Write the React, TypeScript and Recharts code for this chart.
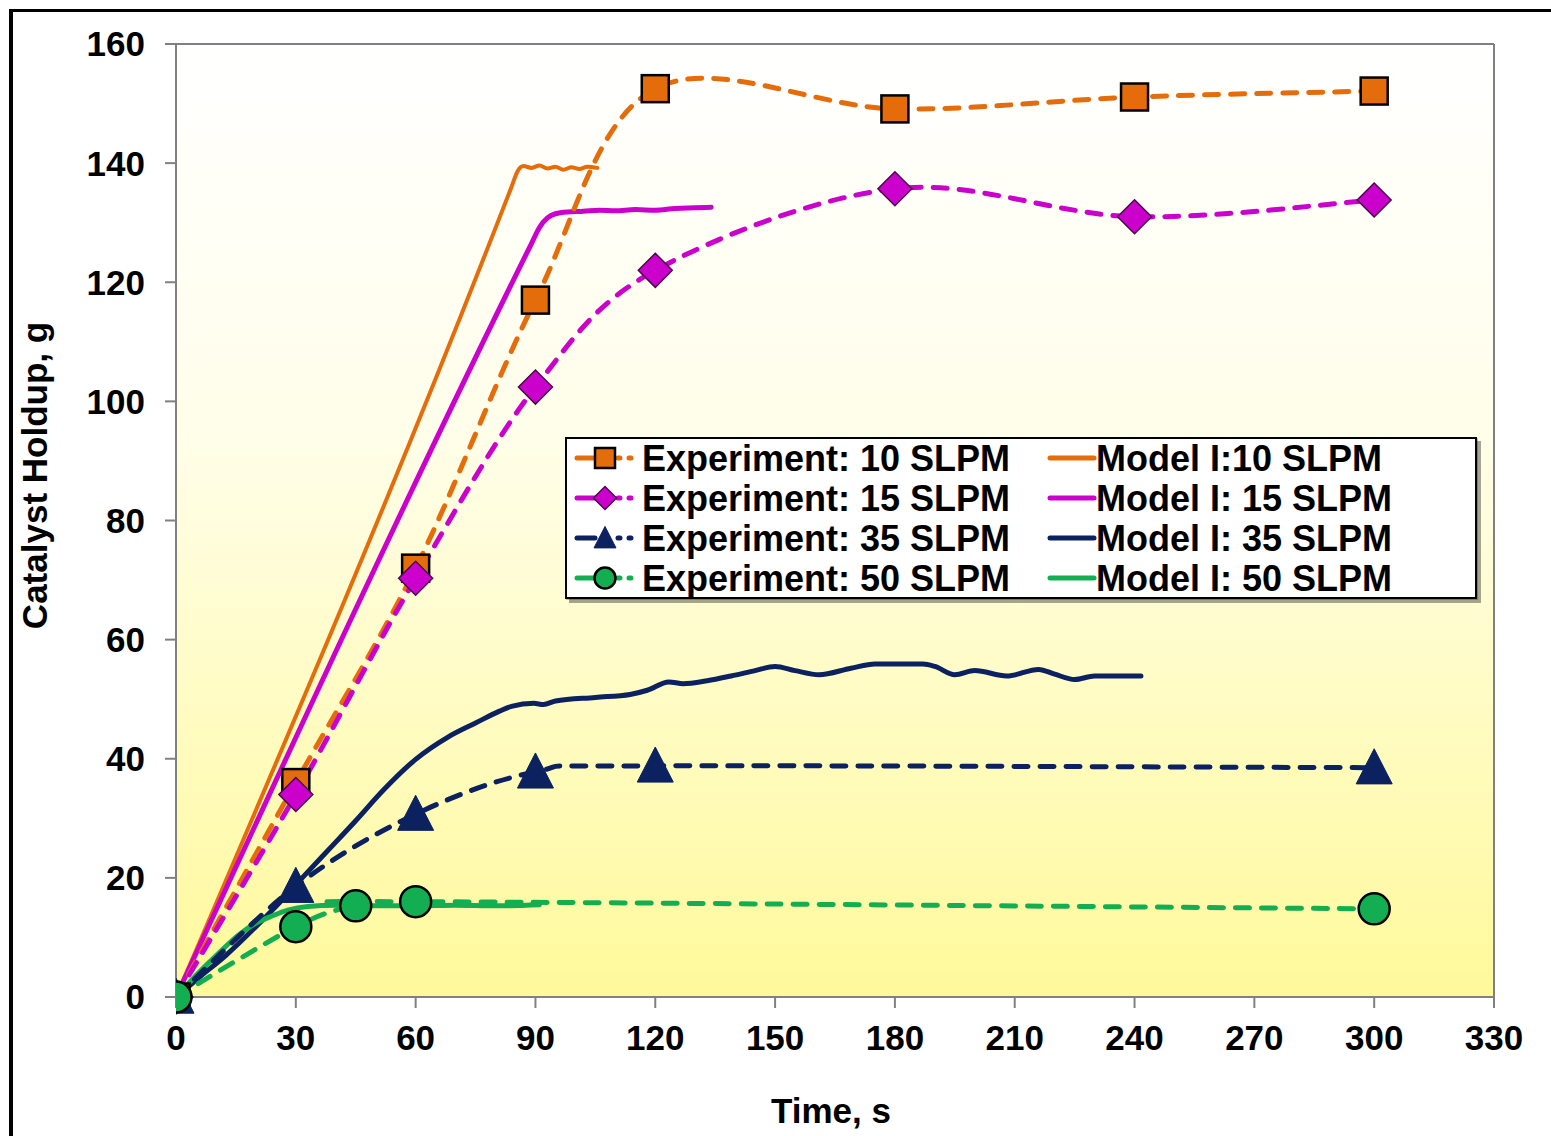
import React from 'react';
import { LineChart, Line, XAxis, YAxis, CartesianGrid, Legend } from 'recharts';

const FONT = '"Liberation Sans", Arial, Helvetica, sans-serif';

const ORANGE = '#E46C0A';
const MAGENTA = '#CC00CC';
const NAVY = '#0B2160';
const GREEN = '#14AE52';

// measured holdup, time in s, holdup in g
const expTime10 = [0, 30, 60, 90, 120, 180, 240, 300];
const expHold10 = [0, 36, 72, 117, 152.5, 149.1, 151.1, 152.1];
const expTime15 = [0, 30, 60, 90, 120, 180, 240, 300];
const expHold15 = [0, 34, 70.3, 102.4, 122, 135.7, 131, 133.8];
const expTime35 = [0, 30, 60, 90, 120, 300];
const expHold35 = [0, 18.6, 30.7, 37.8, 38.8, 38.5];
const expTime50 = [0, 30, 45, 60, 300];
const expHold50 = [0, 11.8, 15.3, 16, 14.8];

// Model I traces
const modelTime10 = [0, 84, 85.5, 87, 89, 91, 93, 95, 97, 99, 101, 103, 105.5];
const modelHold10 = [0, 136, 138.6, 139.5, 139.2, 139.6, 139.1, 139.4, 138.9, 139.3, 139.0, 139.4, 139.2];
const modelTime15 = [0, 89, 91, 93, 95, 98, 102, 106, 110, 115, 120, 125, 130, 134];
const modelHold15 = [0, 126.5, 129.2, 130.8, 131.5, 131.8, 131.9, 132.1, 132.0, 132.2, 132.1, 132.4, 132.5, 132.6];
const modelTime35 = [0, 6, 12.5, 20, 25, 33, 40, 45, 52, 60, 68, 75, 81, 84, 89.6, 92, 95, 105, 113.7, 118, 123.4, 127, 133, 139, 145, 150, 155, 161, 169, 175, 187, 190, 195, 200, 208, 216, 220, 225, 230, 241.6];
const modelHold35 = [0, 3.4, 7, 11.8, 15.2, 21, 26, 29.6, 34.8, 39.9, 43.6, 46, 48, 48.8, 49.3, 49.1, 49.7, 50.3, 50.8, 51.5, 52.9, 52.6, 53.1, 53.9, 54.8, 55.5, 54.8, 54.1, 55.2, 55.9, 55.9, 55.5, 54.1, 54.8, 53.9, 55.0, 54.2, 53.3, 53.9, 53.9];
const modelTime50 = [0, 5, 10, 16, 20, 24, 28, 33, 40, 50, 60, 70, 80, 91];
const modelHold50 = [0, 3.6, 6.9, 10.6, 12.4, 13.6, 14.6, 15.2, 15.4, 15.3, 15.3, 15.4, 15.3, 15.5];

const xTicks = [0, 30, 60, 90, 120, 150, 180, 210, 240, 270, 300, 330];
const yTicks = [0, 20, 40, 60, 80, 100, 120, 140, 160];

type Shape = 'square' | 'diamond' | 'triangle' | 'circle';

const toRows = (t: number[], v: number[]) => t.map((x, i) => ({ t: x, v: v[i] }));

const experiments = [
  { id: 'e10', name: 'Experiment: 10 SLPM', rows: toRows(expTime10, expHold10), color: ORANGE, shape: 'square' as Shape },
  { id: 'e15', name: 'Experiment: 15 SLPM', rows: toRows(expTime15, expHold15), color: MAGENTA, shape: 'diamond' as Shape },
  { id: 'e35', name: 'Experiment: 35 SLPM', rows: toRows(expTime35, expHold35), color: NAVY, shape: 'triangle' as Shape },
  { id: 'e50', name: 'Experiment: 50 SLPM', rows: toRows(expTime50, expHold50), color: GREEN, shape: 'circle' as Shape },
];

const models = [
  { id: 'm10', name: 'Model I:10 SLPM', rows: toRows(modelTime10, modelHold10), color: ORANGE, width: 4 },
  { id: 'm15', name: 'Model I: 15 SLPM', rows: toRows(modelTime15, modelHold15), color: MAGENTA, width: 5 },
  { id: 'm35', name: 'Model I: 35 SLPM', rows: toRows(modelTime35, modelHold35), color: NAVY, width: 5 },
  { id: 'm50', name: 'Model I: 50 SLPM', rows: toRows(modelTime50, modelHold50), color: GREEN, width: 5 },
];

// spreadsheet-style smoothing: cubic bezier through every point (catmull-rom, tension 1/6)
const excelSmooth = (context: any) => {
  let pts: [number, number][] = [];
  return {
    areaStart() {},
    areaEnd() {},
    lineStart() {
      pts = [];
    },
    lineEnd() {
      const n = pts.length;
      if (!n) return;
      context.moveTo(pts[0][0], pts[0][1]);
      for (let i = 0; i < n - 1; i++) {
        const p0 = pts[Math.max(i - 1, 0)];
        const p1 = pts[i];
        const p2 = pts[i + 1];
        const p3 = pts[Math.min(i + 2, n - 1)];
        context.bezierCurveTo(
          p1[0] + (p2[0] - p0[0]) / 6, p1[1] + (p2[1] - p0[1]) / 6,
          p2[0] - (p3[0] - p1[0]) / 6, p2[1] - (p3[1] - p1[1]) / 6,
          p2[0], p2[1],
        );
      }
    },
    point(x: number, y: number) {
      pts.push([x, y]);
    },
  };
};

const drawMarker = (shape: Shape, cx: number, cy: number, r: number, fill: string, key?: React.Key) => {
  switch (shape) {
    case 'square':
      return <rect key={key} x={cx - r} y={cy - r} width={2 * r} height={2 * r} fill={fill} stroke="#000" strokeWidth={2.5} />;
    case 'diamond':
      return (
        <polygon key={key} points={`${cx},${cy - r} ${cx + r},${cy} ${cx},${cy + r} ${cx - r},${cy}`}
          fill={fill} stroke="#4a0a4a" strokeWidth={1.5} />
      );
    case 'triangle':
      return (
        <polygon key={key} points={`${cx},${cy - r * 1.05} ${cx + r},${cy + r * 0.9} ${cx - r},${cy + r * 0.9}`}
          fill={fill} stroke={fill} strokeWidth={1} />
      );
    default:
      return <circle key={key} cx={cx} cy={cy} r={r} fill={fill} stroke="#000" strokeWidth={2.5} />;
  }
};

const markerSize: Record<Shape, number> = { square: 13.5, diamond: 17, triangle: 18, circle: 15.5 };
const legendSize: Record<Shape, number> = { square: 10, diamond: 11.5, triangle: 11, circle: 10.5 };

// legend drawn as one svg; the box sits 7px in and 11px down so nothing touches the svg edge
const LegendBox = () => (
  <svg width={930} height={190} style={{ display: 'block', overflow: 'visible' }}>
    <rect x={10} y={14} width={912} height={162} fill="#000" opacity={0.35} />
    <rect x={7} y={11} width={912} height={162} fill="#000" opacity={0.25} />
    <rect x={7} y={11} width={910} height={160} fill="#fff" stroke="#000" strokeWidth={2} />
    {experiments.map((s, i) => {
      const cy = 31 + i * 40;
      return (
        <g key={s.id}>
          <line x1={18} x2={36} y1={cy} y2={cy} stroke={s.color} strokeWidth={5} strokeLinecap="round" />
          <line x1={59} x2={75} y1={cy} y2={cy} stroke={s.color} strokeWidth={5} strokeLinecap="round" strokeDasharray="2 9" />
          {drawMarker(s.shape, 46, cy, legendSize[s.shape], s.color)}
          <text x={83} y={cy + 13} fontFamily={FONT} fontWeight="bold" fontSize={36} fill="#000">{s.name}</text>
        </g>
      );
    })}
    {models.map((s, i) => {
      const cy = 31 + i * 40;
      return (
        <g key={s.id}>
          <line x1={491} x2={535} y1={cy} y2={cy} stroke={s.color} strokeWidth={5} strokeLinecap="round" />
          <text x={537} y={cy + 13} fontFamily={FONT} fontWeight="bold" fontSize={36} fill="#000">{s.name}</text>
        </g>
      );
    })}
  </svg>
);

const tickStyle = { fontFamily: FONT, fontWeight: 'bold', fontSize: 35, fill: '#000' };

const YTitle = (props: any) => {
  const { viewBox } = props;
  const x = viewBox.x + 47;
  const y = viewBox.y + viewBox.height / 2 - 45;
  return (
    <text x={x} y={y} transform={`rotate(-90, ${x}, ${y})`} textAnchor="middle"
      fontFamily={FONT} fontWeight="bold" fontSize={35} fill="#000">Catalyst Holdup, g</text>
  );
};

const XTitle = (props: any) => {
  const { viewBox } = props;
  const x = viewBox.x + viewBox.width / 2 - 4;
  return (
    <text x={x} y={1123} textAnchor="middle" fontFamily={FONT} fontWeight="bold" fontSize={35} fill="#000">Time, s</text>
  );
};

export default function App() {
  return (
    <div style={{ position: 'fixed', left: 0, top: 0, width: 1551, height: 1136, overflow: 'hidden', background: '#fff' }}>
      <div style={{
        position: 'absolute', left: 9, top: 9, width: 1700, height: 1300,
        borderLeft: '4px solid #000', borderTop: '3px solid #000',
      }} />
      <div style={{ position: 'absolute', left: 0, top: 0 }}>
        <LineChart width={1551} height={1136} margin={{ top: 44, right: 57, bottom: 0, left: 0 }}>
          <defs>
            <linearGradient id="plotBg" x1="0" y1="0" x2="0" y2="1">
              <stop offset="0" stopColor="#FFFFFF" />
              <stop offset="0.4" stopColor="#FFFEEA" />
              <stop offset="1" stopColor="#FFF99B" />
            </linearGradient>
          </defs>
          <CartesianGrid
            fill="url(#plotBg)"
            fillOpacity={1}
            stroke="#808080"
            strokeWidth={2}
            horizontalCoordinatesGenerator={({ offset }: any) => [offset.top, offset.top + offset.height]}
            verticalCoordinatesGenerator={({ offset }: any) => [offset.left, offset.left + offset.width]}
          />
          <XAxis
            type="number"
            dataKey="t"
            domain={[0, 330]}
            ticks={xTicks}
            interval={0}
            height={139}
            tickSize={11}
            tickMargin={17}
            tick={tickStyle}
            stroke="#808080"
            strokeWidth={2}
            allowDataOverflow
            label={<XTitle />}
          />
          <YAxis
            type="number"
            domain={[0, 160]}
            ticks={yTicks}
            interval={0}
            width={176}
            tickSize={11}
            tickMargin={20}
            tick={tickStyle}
            stroke="#808080"
            strokeWidth={2}
            label={<YTitle />}
          />
          <Legend
            layout="horizontal"
            verticalAlign="middle"
            content={() => <LegendBox />}
            wrapperStyle={{ position: 'absolute', left: 559, top: 427, width: 930, height: 190 }}
          />
          {models.map((s) => (
            <Line
              key={s.id}
              data={s.rows}
              dataKey="v"
              name={s.name}
              type="monotone"
              stroke={s.color}
              strokeWidth={s.width}
              strokeLinecap="round"
              strokeLinejoin="round"
              dot={false}
              activeDot={false}
              isAnimationActive={false}
              legendType="none"
            />
          ))}
          {experiments.map((s) => (
            <Line
              key={s.id}
              data={s.rows}
              dataKey="v"
              name={s.name}
              type={excelSmooth as any}
              stroke={s.color}
              strokeWidth={5}
              strokeDasharray="14 12"
              strokeLinecap="round"
              dot={(p: any) => drawMarker(s.shape, p.cx, p.cy, markerSize[s.shape], s.color, `${s.id}-${p.index}`)}
              activeDot={false}
              isAnimationActive={false}
              legendType="none"
            />
          ))}
        </LineChart>
      </div>
    </div>
  );
}
